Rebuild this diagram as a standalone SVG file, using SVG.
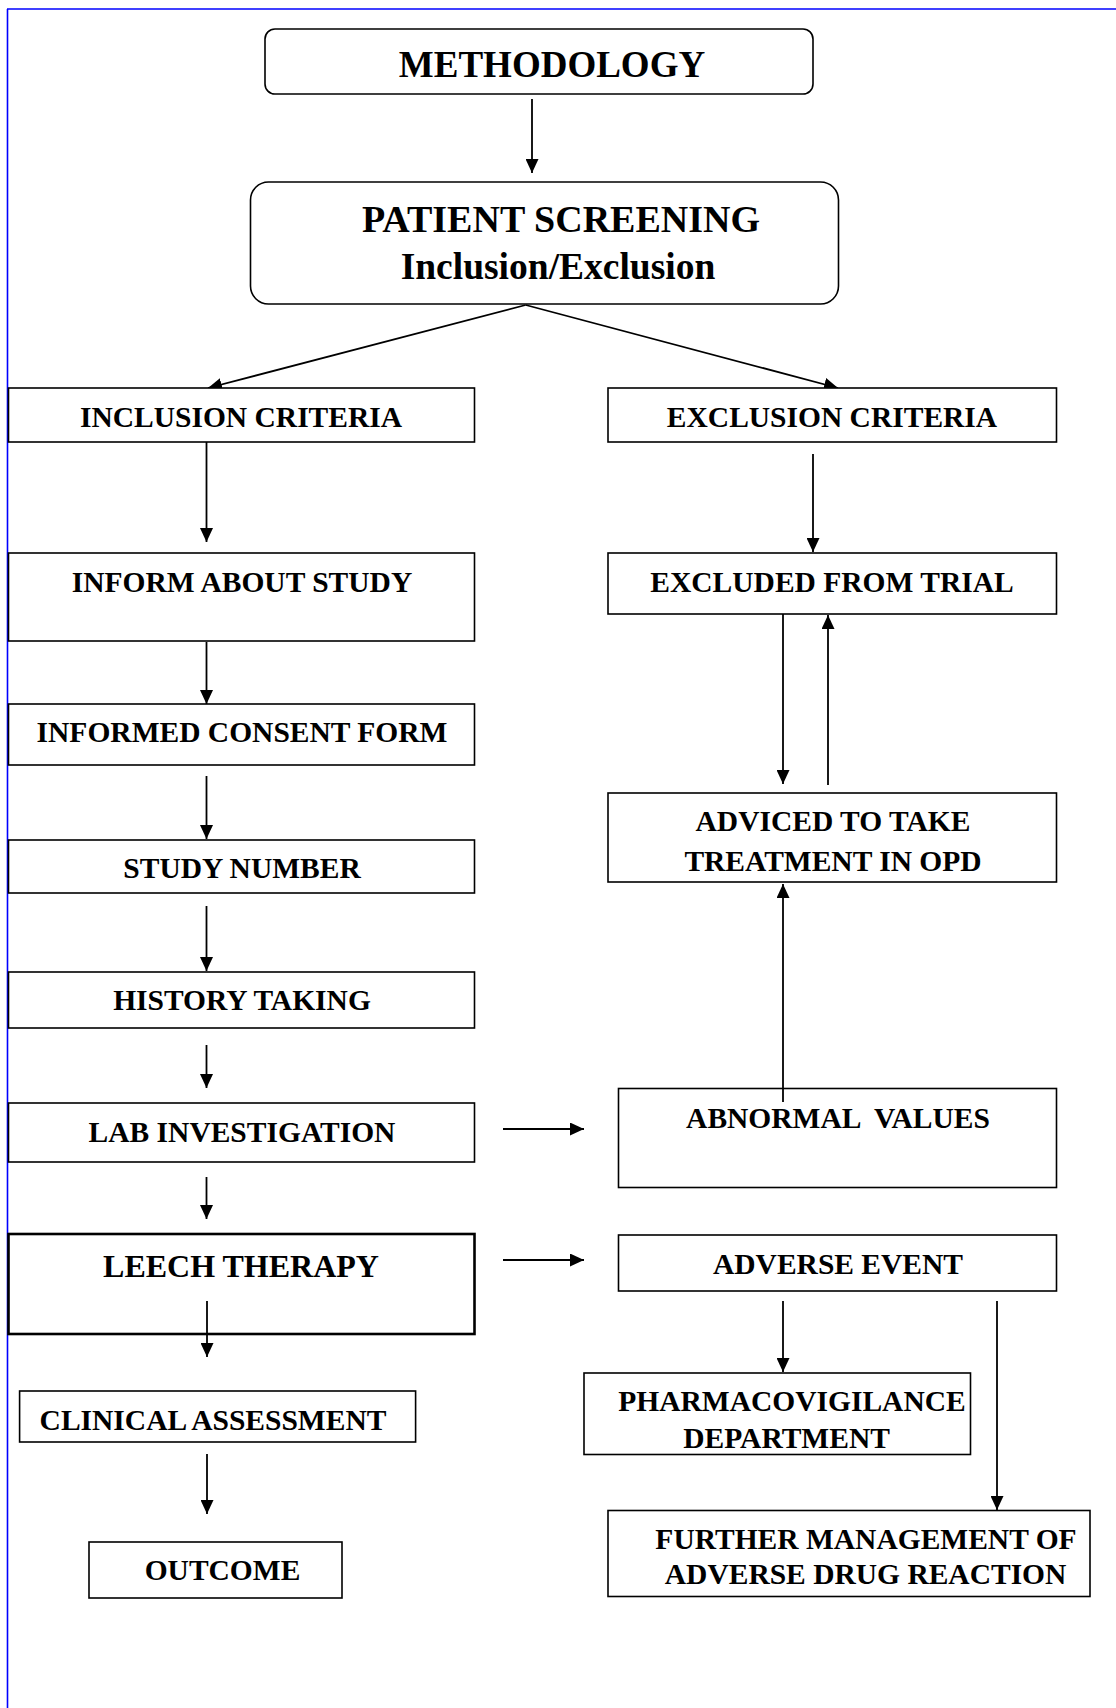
<svg xmlns="http://www.w3.org/2000/svg" width="1116" height="1708" viewBox="0 0 1116 1708">
<defs>
<marker id="ah" markerUnits="userSpaceOnUse" markerWidth="14" markerHeight="13" refX="14" refY="6.5" orient="auto">
<path d="M0,0 L14,6.5 L0,13 Z" fill="#000"/>
</marker>
<style>
.box{fill:#fff;stroke:#000;stroke-width:1.6}
.thick{stroke-width:2.6}
.t{font-family:"Liberation Serif","Times New Roman",serif;font-weight:bold;font-size:29.5px;fill:#000;text-anchor:middle;white-space:pre}
.c{stroke:#000;stroke-width:1.8;fill:none;marker-end:url(#ah)}
</style>
</defs>
<rect width="1116" height="1708" fill="#fff"/>
<g id="frame">
<line x1="7" y1="9" x2="1116" y2="9" stroke="#0000ff" stroke-width="1.6"/>
<line x1="7.5" y1="9" x2="7.5" y2="1708" stroke="#0000ff" stroke-width="1.6"/>
</g>
<g id="connectors">
<line class="c" x1="532" y1="99" x2="532" y2="173"/>
<line class="c" x1="525.7" y1="305" x2="208" y2="388"/>
<line class="c" x1="525.7" y1="305" x2="838" y2="388"/>
<line class="c" x1="206.5" y1="442" x2="206.5" y2="542"/>
<line class="c" x1="206.5" y1="642" x2="206.5" y2="704"/>
<line class="c" x1="206.5" y1="776" x2="206.5" y2="839"/>
<line class="c" x1="206.5" y1="906" x2="206.5" y2="971"/>
<line class="c" x1="206.5" y1="1045" x2="206.5" y2="1088"/>
<line class="c" x1="206.5" y1="1177" x2="206.5" y2="1219"/>
<line class="c" x1="813" y1="454" x2="813" y2="552"/>
<line class="c" x1="783" y1="614" x2="783" y2="784"/>
<line class="c" x1="828" y1="785" x2="828" y2="615"/>
<line class="c" x1="503" y1="1129" x2="584" y2="1129"/>
<line class="c" x1="503" y1="1260" x2="584" y2="1260"/>
<line class="c" x1="783" y1="1301" x2="783" y2="1372"/>
<line class="c" x1="997" y1="1301" x2="997" y2="1510"/>
<line class="c" x1="207" y1="1454" x2="207" y2="1514"/>
</g>
<g id="methodology">
<rect class="box" x="265" y="29" width="548" height="65" rx="10"/>
<text class="t" x="552" y="77" style="font-size:37px">METHODOLOGY</text>
</g>
<g id="patient-screening">
<rect class="box" x="250.5" y="182" width="588" height="122" rx="18"/>
<text class="t" x="561" y="232" style="font-size:38px">PATIENT SCREENING</text>
<text class="t" x="558" y="279" style="font-size:37.5px">Inclusion/Exclusion</text>
</g>
<g id="inclusion-criteria">
<rect class="box" x="8.5" y="388" width="466" height="54"/>
<text class="t" x="241" y="427">INCLUSION CRITERIA</text>
</g>
<g id="inform-about-study">
<rect class="box" x="8.5" y="553" width="466" height="88"/>
<text class="t" x="242" y="592">INFORM ABOUT STUDY</text>
</g>
<g id="informed-consent-form">
<rect class="box" x="8.5" y="704" width="466" height="61"/>
<text class="t" x="242" y="742">INFORMED CONSENT FORM</text>
</g>
<g id="study-number">
<rect class="box" x="8.5" y="840" width="466" height="53"/>
<text class="t" x="242" y="878">STUDY NUMBER</text>
</g>
<g id="history-taking">
<rect class="box" x="8.5" y="972" width="466" height="56"/>
<text class="t" x="242" y="1010">HISTORY TAKING</text>
</g>
<g id="lab-investigation">
<rect class="box" x="8.5" y="1103" width="466" height="59"/>
<text class="t" x="242" y="1142">LAB INVESTIGATION</text>
</g>
<g id="leech-therapy">
<rect class="box thick" x="8.5" y="1234" width="466" height="100"/>
<text class="t" x="241" y="1277" style="font-size:32px">LEECH THERAPY</text>
</g>
<line class="c" x1="207" y1="1301" x2="207" y2="1357"/>
<g id="clinical-assessment">
<rect class="box" x="19.6" y="1391" width="396" height="51"/>
<text class="t" x="213" y="1430">CLINICAL ASSESSMENT</text>
</g>
<g id="outcome">
<rect class="box" x="89" y="1542" width="253" height="56"/>
<text class="t" x="222.5" y="1580">OUTCOME</text>
</g>
<g id="exclusion-criteria">
<rect class="box" x="608" y="388" width="448.5" height="54"/>
<text class="t" x="832" y="427">EXCLUSION CRITERIA</text>
</g>
<g id="excluded-from-trial">
<rect class="box" x="608" y="553" width="448.5" height="61"/>
<text class="t" x="832" y="592">EXCLUDED FROM TRIAL</text>
</g>
<g id="adviced">
<rect class="box" x="608" y="793" width="448.5" height="89"/>
<text class="t" x="833" y="831">ADVICED TO TAKE</text>
<text class="t" x="833" y="871">TREATMENT IN OPD</text>
</g>
<g id="abnormal-values">
<rect class="box" x="618.5" y="1088.5" width="438" height="99"/>
<text class="t" x="838" y="1128">ABNORMAL  VALUES</text>
</g>
<line class="c" x1="783" y1="1102" x2="783" y2="884"/>
<g id="adverse-event">
<rect class="box" x="618.5" y="1235" width="438" height="56"/>
<text class="t" x="838" y="1273.5">ADVERSE EVENT</text>
</g>
<g id="pharmacovigilance">
<rect class="box" x="584" y="1373" width="386.5" height="81.5"/>
<text class="t" x="792" y="1411">PHARMACOVIGILANCE</text>
<text class="t" x="786.6" y="1447.5">DEPARTMENT</text>
</g>
<g id="further-management">
<rect class="box" x="608" y="1510.5" width="482" height="86"/>
<text class="t" x="866" y="1548.5">FURTHER MANAGEMENT OF</text>
<text class="t" x="865.6" y="1584">ADVERSE DRUG REACTION</text>
</g>
</svg>
